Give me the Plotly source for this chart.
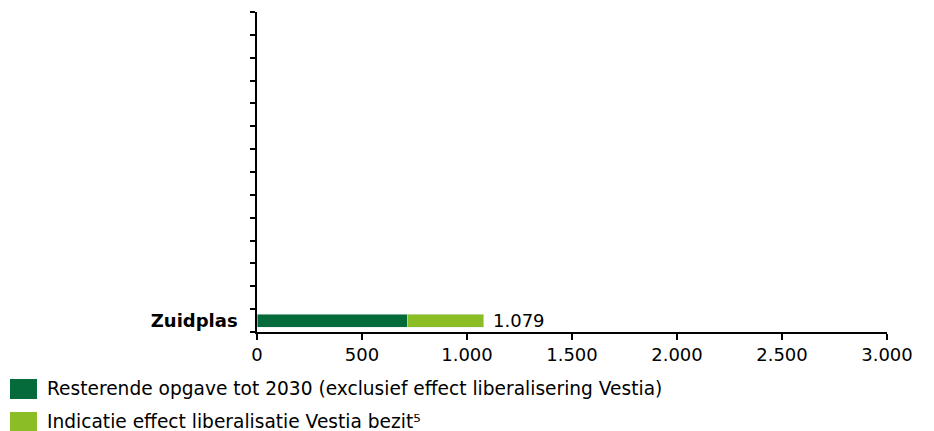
import plotly.graph_objects as go

categories = ["Zuidplas"]
resterende = [716]
indicatie = [363]
series_names = [
    "Resterende opgave tot 2030 (exclusief effect liberalisering Vestia)",
    "Indicatie effect liberalisatie Vestia bezit⁵",
]
colors = ["#066B3A", "#8BBD24"]
x_ticks = [0, 500, 1000, 1500, 2000, 2500, 3000]
n_slots = 14

FONT = "DejaVu Sans"
FS = 18
LFS = 18.6
OFF = 8  # page body margin
W, H = 934 - OFF, 431 - OFF
ML, MT = 257 - OFF, 12 - OFF
MR = W - (887 - OFF)
MB = H - (332 - OFF)
PW, PH = W - ML - MR, H - MT - MB

ypos = list(range(len(categories)))

fig = go.Figure()
fig.add_trace(go.Bar(y=ypos, x=resterende, orientation="h", marker_color=colors[0],
                     width=0.57, name=series_names[0], showlegend=False))
fig.add_trace(go.Bar(y=ypos, x=indicatie, orientation="h", marker_color=colors[1],
                     width=0.57, name=series_names[1], showlegend=False))

def fmt(v):
    return f"{v:,}".replace(",", ".")

for i, c in enumerate(categories):
    total = resterende[i] + indicatie[i]
    fig.add_annotation(x=total, y=ypos[i], xref="x", yref="y", text=fmt(total),
                       showarrow=False, xanchor="left", xshift=7,
                       font=dict(family=FONT, size=FS, color="#000"))

def px_to_paper_x(px):
    return (px - OFF - ML) / PW

def px_to_paper_y(py):
    return (MT + PH - (py - OFF)) / PH

legend_rows = [(379, 399), (412, 432)]
for name, col, (y0, y1) in zip(series_names, colors, legend_rows):
    fig.add_shape(type="rect", xref="paper", yref="paper",
                  x0=px_to_paper_x(10), x1=px_to_paper_x(37),
                  y0=px_to_paper_y(y1), y1=px_to_paper_y(y0),
                  fillcolor=col, line_width=0)
    fig.add_annotation(xref="paper", yref="paper", x=px_to_paper_x(45),
                       y=px_to_paper_y((y0 + y1) / 2 - 0.5), text=name, showarrow=False,
                       xanchor="left", yanchor="middle",
                       font=dict(family=FONT, size=LFS, color="#000"))

fig.update_layout(
    width=W, height=H, margin=dict(l=ML, r=MR, t=MT, b=MB),
    barmode="stack", plot_bgcolor="white", paper_bgcolor="white",
    separators=",.", showlegend=False,
    font=dict(family=FONT, size=FS, color="#000"),
)
fig.update_xaxes(range=[0, 3000], tickvals=x_ticks, separatethousands=True,
                 showline=True, linecolor="#000", linewidth=1.5,
                 ticks="outside", ticklen=6, tickcolor="#000", tickwidth=1.5,
                 showgrid=False, zeroline=False, fixedrange=True,
                 tickfont=dict(family=FONT, size=FS, color="#000"))
fig.update_yaxes(range=[-0.5, n_slots - 0.5], tickvals=ypos,
                 ticktext=[f"<b>{c}</b>" for c in categories],
                 ticks="", showline=True, linecolor="#000", linewidth=1.5,
                 showgrid=False, zeroline=False, ticklabelstandoff=14,
                 minor=dict(tickvals=[k - 0.5 for k in range(n_slots + 1)],
                            ticks="outside", ticklen=5, tickcolor="#000",
                            tickwidth=1.5, showgrid=False),
                 tickfont=dict(family=FONT, size=FS, color="#000"))

fig.write_html("out.html")
